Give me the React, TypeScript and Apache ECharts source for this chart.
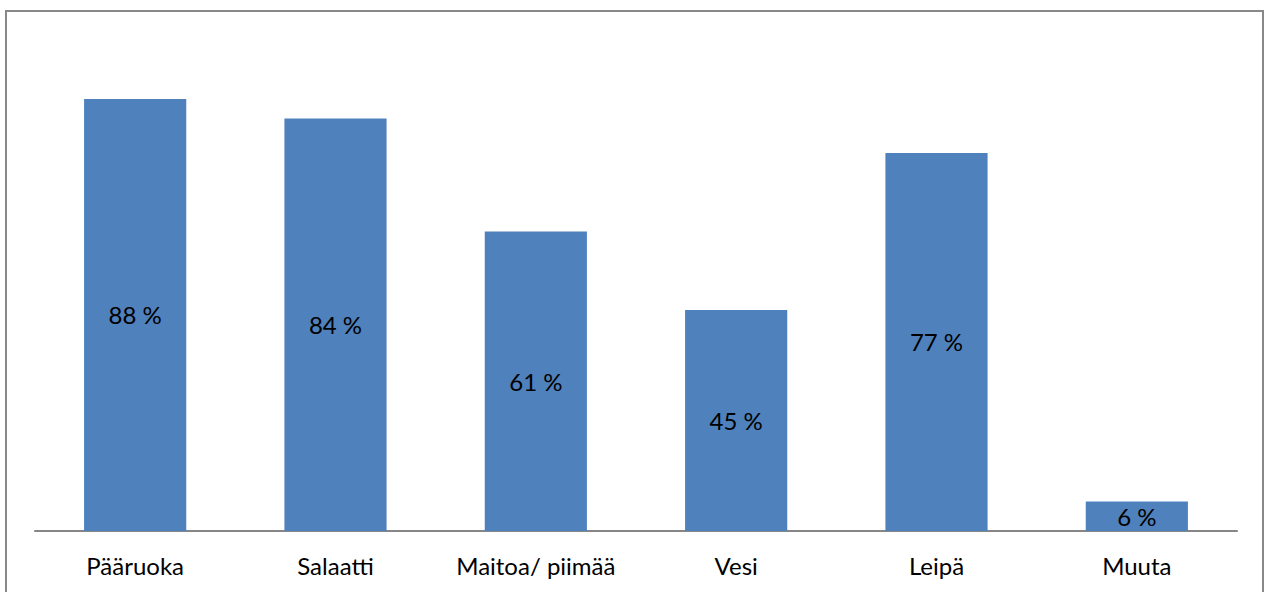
import React, { useEffect, useRef } from "react";
import * as echarts from "echarts";

const categories = ["Pääruoka", "Salaatti", "Maitoa/ piimää", "Vesi", "Leipä", "Muuta"];
const values = [88, 84, 61, 45, 77, 6];

export default function App() {
  const ref = useRef<HTMLDivElement>(null);
  useEffect(() => {
    if (!ref.current) return;
    const chart = echarts.init(ref.current, null, { renderer: "svg" });
    chart.setOption({
      animation: false,
      backgroundColor: "#ffffff",
      textStyle: { fontFamily: "Lato, 'Open Sans', sans-serif" },
      graphic: [
        {
          type: "rect",
          shape: { x: 6, y: 11, width: 1257, height: 600 },
          style: { fill: "none", stroke: "#888888", lineWidth: 2 },
          silent: true,
        },
      ],
      grid: { left: 35, right: 29, top: 40, bottom: 61, containLabel: false },
      xAxis: {
        type: "category",
        data: categories,
        axisLine: { show: true, lineStyle: { color: "#868686", width: 2 } },
        axisTick: { show: false },
        axisLabel: { color: "#000000", fontSize: 24, margin: 22, interval: 0, fontFamily: "Lato, sans-serif" },
      },
      yAxis: {
        type: "value",
        min: 0,
        max: 100,
        show: false,
        splitLine: { show: false },
      },
      series: [
        {
          type: "bar",
          data: values,
          barWidth: "51%",
          itemStyle: { color: "#4F81BD" },
          label: {
            show: true,
            position: "inside",
            formatter: "{c} %",
            color: "#000000",
            fontSize: 24,
            fontFamily: "Lato, sans-serif",
          },
        },
      ],
    });
    return () => chart.dispose();
  }, []);
  return <div ref={ref} style={{ position: "fixed", left: 0, top: 0, width: 1266, height: 592 }} />;
}
